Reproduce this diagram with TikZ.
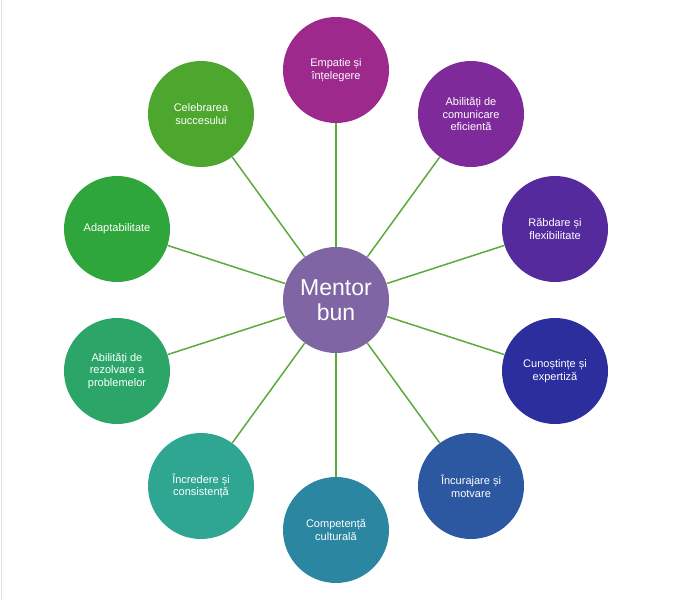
\documentclass[tikz,border=0pt]{standalone}
\usepackage{fontspec}
\setmainfont{Liberation Sans}
\definecolor{cEmp}{RGB}{157,41,140}
\definecolor{cCom}{RGB}{126,42,155}
\definecolor{cRab}{RGB}{85,42,157}
\definecolor{cCun}{RGB}{44,46,158}
\definecolor{cInc}{RGB}{43,88,160}
\definecolor{cCul}{RGB}{43,134,162}
\definecolor{cIcr}{RGB}{46,166,146}
\definecolor{cRez}{RGB}{44,166,104}
\definecolor{cAda}{RGB}{46,166,60}
\definecolor{cCel}{RGB}{77,166,46}
\definecolor{cCen}{RGB}{127,101,163}
\definecolor{cLine}{RGB}{91,170,60}
\begin{document}
\begin{tikzpicture}[x=1pt,y=-1pt,
  bubble/.style={circle,minimum size=106pt,inner sep=0pt,text=white,
    align=center,font=\fontsize{11}{12.5}\selectfont},
  hub/.style={circle,minimum size=106pt,inner sep=0pt,fill=cCen,text=white,
    align=center,font=\fontsize{23}{25}\selectfont},
  link/.style={draw=cLine,line width=1.5pt}]
\useasboundingbox (0,0) rectangle (690,600);
\coordinate (edgeTop) at (1,0);
\coordinate (edgeBot) at (1,600);
\draw[draw=black!12,line width=1pt] (edgeTop) -- (edgeBot);
\node[hub] (c) at (336,300) {Mentor\\bun};
\node[bubble,fill=cEmp] (n1) at (336,70) {Empatie și\\înțelegere};
\node[bubble,fill=cCom] (n2) at (471,114) {Abilități de\\comunicare\\eficientă};
\node[bubble,fill=cRab] (n3) at (555,229) {Răbdare și\\flexibilitate};
\node[bubble,fill=cCun] (n4) at (555,371) {Cunoștințe și\\expertiză};
\node[bubble,fill=cInc] (n5) at (471,486) {Încurajare și\\motvare};
\node[bubble,fill=cCul] (n6) at (336,530) {Competență\\culturală};
\node[bubble,fill=cIcr] (n7) at (201,486) {Încredere și\\consistență};
\node[bubble,fill=cRez] (n8) at (117,371) {Abilități de\\rezolvare a\\problemelor};
\node[bubble,fill=cAda] (n9) at (117,229) {Adaptabilitate};
\node[bubble,fill=cCel] (n10) at (201,114) {Celebrarea\\succesului};
\foreach \k in {1,...,10} {\draw[link] (c) -- (n\k);}
\end{tikzpicture}
\end{document}
